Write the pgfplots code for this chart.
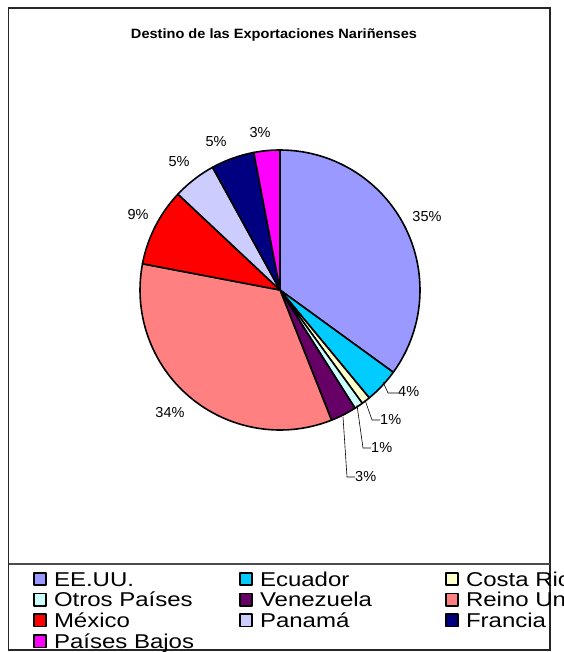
\documentclass[border=0pt]{standalone}
\usepackage{pgfplots}
\pgfplotsset{compat=1.18}
\usepackage{fontspec}
\setmainfont{Liberation Sans}
\newfontfamily\legfont[FakeStretch=1.2]{Liberation Sans}
\newfontfamily\titfont[FakeStretch=1.08]{Liberation Sans}
\definecolor{cEEUU}{HTML}{9999FF}
\definecolor{cEcuador}{HTML}{00CCFF}
\definecolor{cCosta}{HTML}{FFFFCC}
\definecolor{cOtros}{HTML}{CCFFFF}
\definecolor{cVenez}{HTML}{660066}
\definecolor{cReino}{HTML}{FF8080}
\definecolor{cMexico}{HTML}{FF0000}
\definecolor{cPanama}{HTML}{CCCCFF}
\definecolor{cFrancia}{HTML}{000080}
\definecolor{cBajos}{HTML}{FF00FF}
% slice: #1 = cumulative share before the slice (%), #2 = share (%), #3 = colour
\newcommand{\slice}[3]{%
  \addplot[fill=#3, draw=black, line width=1.6pt, line join=round,
    domain=0:1, samples=60, variable=\t]
    ({280+140*cos(90-3.6*(#1+#2*\t))},{290-140*sin(90-3.6*(#1+#2*\t))})
    -- (axis cs:280,290) -- cycle;}
\newcommand{\lgent}[1]{\makebox[185pt][l]{#1}}
\begin{document}
\begin{tikzpicture}
\begin{axis}[
  scale only axis, width=563pt, height=652pt,
  xmin=0, xmax=563, ymin=0, ymax=652, y dir=reverse,
  hide axis, clip=false,
  legend columns=3,
  legend image code/.code={\draw[#1, draw=black, line width=1.6pt] (0.8pt,0.8pt) rectangle (13.2pt,13.2pt);},
  legend style={at={(axis cs:33,571.3)}, anchor=north west, draw=none, fill=none,
    inner sep=0pt, outer sep=0pt, font=\legfont\fontsize{20}{20}\selectfont,
    row sep=0pt, column sep=0pt,
    nodes={inner sep=0pt, outer sep=0pt, text height=14.7pt, text depth=6pt, anchor=base west},
    /tikz/every odd column/.append style={column sep=7pt}},
  legend cell align=left,
]
\slice{0}{35}{cEEUU}
\slice{35}{4}{cEcuador}
\slice{39}{1}{cCosta}
\slice{40}{1}{cOtros}
\slice{41}{3}{cVenez}
\slice{44}{34}{cReino}
\slice{78}{9}{cMexico}
\slice{87}{5}{cPanama}
\slice{92}{5}{cFrancia}
\slice{97}{3}{cBajos}
\legend{\lgent{EE.UU.},\lgent{Ecuador},\lgent{Costa Rica},
  \lgent{Otros Países},\lgent{Venezuela},\lgent{Reino Unido},
  \lgent{México},\lgent{Panamá},\lgent{Francia},
  \lgent{Países Bajos}}
% frame
\draw[line width=1.6pt, black!85] (axis cs:8.5,8) rectangle (axis cs:550,650);
\draw[line width=1.2pt, black!70] (axis cs:8.5,564) -- (axis cs:550,564);
% title
\node[font=\titfont\bfseries\fontsize{13.5}{13.5}\selectfont] at (axis cs:274,35) {Destino de las Exportaciones Nariñenses};
% labels
\begin{scope}[every node/.style={font=\fontsize{14.5}{14.5}\selectfont, inner sep=0pt}]
\node at (axis cs:427,217) {35\%};
\node[anchor=west] at (axis cs:398,392) {4\%};
\node[anchor=west] at (axis cs:380,420) {1\%};
\node[anchor=west] at (axis cs:371,448) {1\%};
\node[anchor=west] at (axis cs:355,477) {3\%};
\node at (axis cs:170,413) {34\%};
\node at (axis cs:138,215) {9\%};
\node at (axis cs:179,162) {5\%};
\node at (axis cs:216,142) {5\%};
\node at (axis cs:260,133) {3\%};
\end{scope}
\draw[line width=0.6pt] (axis cs:383,382) -- (axis cs:388,393) -- (axis cs:398,393);
\draw[line width=0.6pt] (axis cs:365,400) -- (axis cs:372,420) -- (axis cs:380,420);
\draw[line width=0.6pt] (axis cs:357,405) -- (axis cs:363,448) -- (axis cs:371,448);
\draw[line width=0.6pt] (axis cs:343,417) -- (axis cs:347,477) -- (axis cs:355,477);
\end{axis}
\pgfresetboundingbox
\path[use as bounding box] (0,0) rectangle (563pt,652pt);
\end{tikzpicture}
\end{document}
